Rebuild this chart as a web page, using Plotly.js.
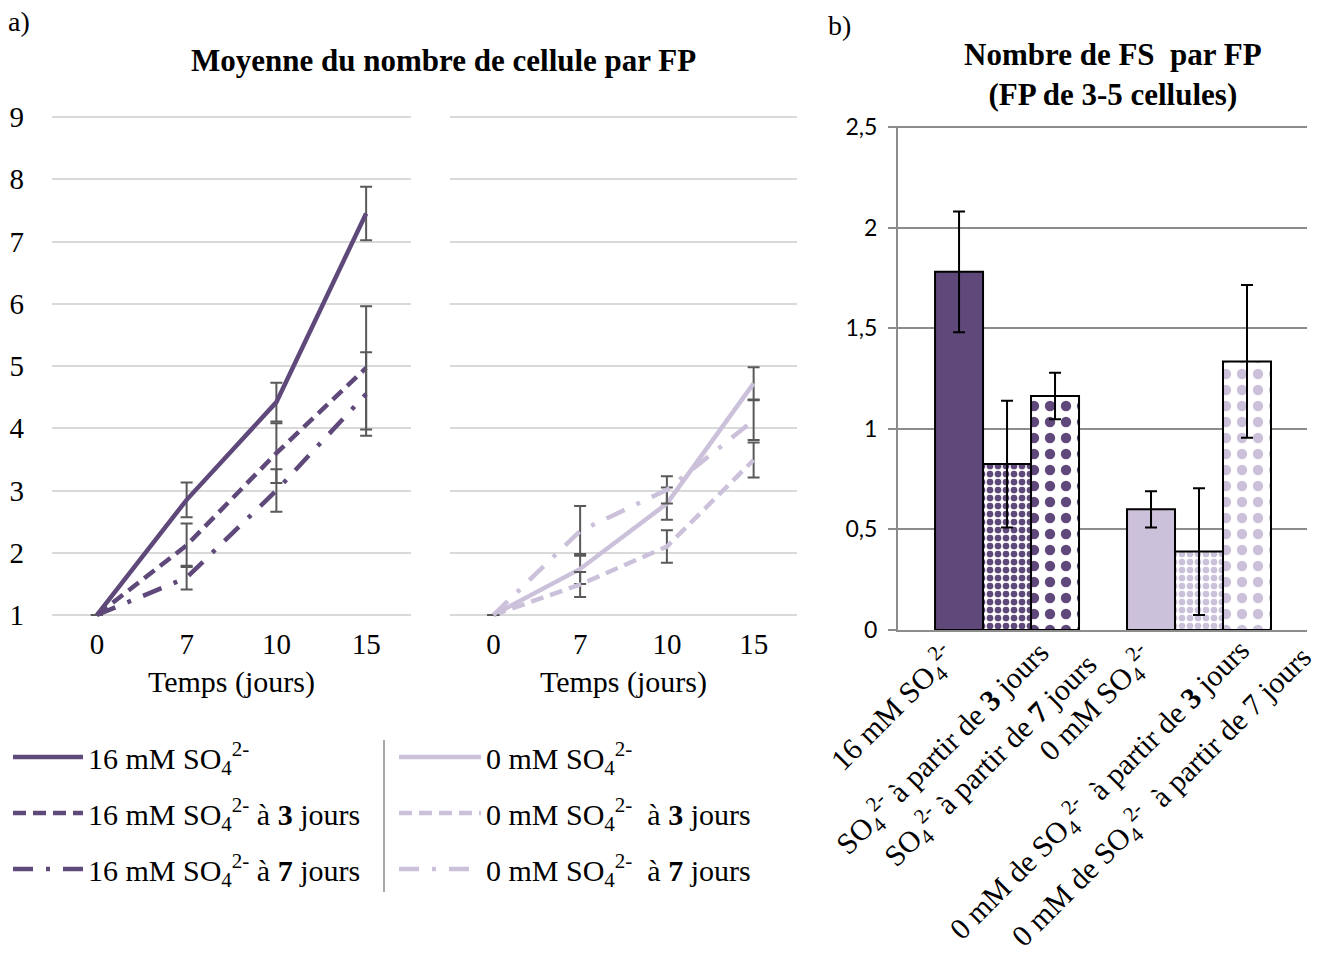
<!DOCTYPE html>
<html><head><meta charset="utf-8">
<script src="https://cdn.plot.ly/plotly-3.0.1.min.js"></script>
<style>body{margin:0;background:#fff}</style>
</head><body>
<div id="chart" style="width:1328px;height:968px"></div>
<script>
// ---- panel a : mean number of cells per FP ----
const days = ["0", "7", "10", "15"];
const s16 = [1, 2.85, 4.42, 7.45];
const s16Err = [0, 0.28, 0.31, 0.43];
const s16j3 = [1, 2.12, 3.60, 4.97];
const s16j3Err = [0, 0.35, 0.48, 0.99];
const s16j7 = [1, 1.60, 3.00, 4.55];
const s16j7Err = [0, 0.19, 0.34, 0.67];
const s0 = [1, 1.74, 2.79, 4.72];
const s0Err = [0, 0.24, 0.26, 0.26];
const s0j3 = [1, 1.49, 2.10, 3.49];
const s0j3Err = [0, 0.20, 0.26, 0.28];
const s0j7 = [1, 2.35, 3.01, 4.13];
const s0j7Err = [0, 0.40, 0.22, 0.32];
const lineNames16 = [
  "16 mM SO<sub>4</sub><sup>2-</sup>",
  "16 mM SO<sub>4</sub><sup>2-</sup> à <b>3</b> jours",
  "16 mM SO<sub>4</sub><sup>2-</sup> à <b>7</b> jours"
];
const lineNames0 = [
  "0 mM SO<sub>4</sub><sup>2-</sup>",
  "0 mM SO<sub>4</sub><sup>2-</sup>  à <b>3</b> jours",
  "0 mM SO<sub>4</sub><sup>2-</sup>  à <b>7</b> jours"
];

// ---- panel b : number of FS per FP ----
const barGroups = ["16 mM", "0 mM"];
const fsPlein = [1.78, 0.60];
const fsPleinErr = [0.30, 0.09];
const fsJ3 = [0.825, 0.39];
const fsJ3Err = [0.315, 0.315];
const fsJ7 = [1.163, 1.335];
const fsJ7Err = [0.115, 0.38];
const barLabels = [
  "16 mM SO<sub>4</sub><sup>2-</sup>",
  "SO<sub>4</sub><sup>2-</sup> à partir de <b>3</b> jours",
  "SO<sub>4</sub><sup>2-</sup> à partir de <b>7</b> jours",
  "0 mM SO<sub>4</sub><sup>2-</sup>",
  "0 mM de SO<sub>4</sub><sup>2-</sup>  à partir de <b>3</b> jours",
  "0 mM de SO<sub>4</sub><sup>2-</sup>  à partir de 7 jours"
];

const DARK = "#5F497A", LIGHT = "#CCC1DA";
const SERIF = "Liberation Serif, Times New Roman, serif";
const W = 1328, H = 968;
const px = v => v / W, py = v => 1 - v / H;

const DASH = "13px,7px";
const DASHDOT = "20px,13px,4px,13px";

function line(y, err, name, color, dash, xa, ya, leg, grp) {
  return {
    type: "scatter", mode: "lines", x: days, y: y, name: name,
    xaxis: xa, yaxis: ya, legend: leg, legendgroup: grp,
    line: {color: color, width: 4.5, dash: dash},
    error_y: {type: "data", array: err, visible: true, color: "#595959", thickness: 2, width: 6},
    hoverinfo: "skip"
  };
}

const traces = [
  line(s16, s16Err, lineNames16[0], DARK, "solid", "x", "y", "legend", "a"),
  line(s16j3, s16j3Err, lineNames16[1], DARK, DASH, "x", "y", "legend", "b"),
  line(s16j7, s16j7Err, lineNames16[2], DARK, DASHDOT, "x", "y", "legend", "c"),
  line(s0, s0Err, lineNames0[0], LIGHT, "solid", "x2", "y2", "legend2", "d"),
  line(s0j3, s0j3Err, lineNames0[1], LIGHT, DASH, "x2", "y2", "legend2", "e"),
  line(s0j7, s0j7Err, lineNames0[2], LIGHT, DASHDOT, "x2", "y2", "legend2", "f")
];

const barErr = arr => ({type: "data", array: arr, visible: true, color: "#000", thickness: 2, width: 6});
traces.push({
  type: "bar", x: barGroups, y: fsPlein, xaxis: "x3", yaxis: "y3", showlegend: false,
  marker: {color: [DARK, LIGHT], line: {color: "#000", width: 2}},
  error_y: barErr(fsPleinErr), hoverinfo: "skip"
});
traces.push({
  type: "bar", x: barGroups, y: fsJ3, xaxis: "x3", yaxis: "y3", showlegend: false,
  marker: {color: "#fff", line: {color: "#000", width: 2},
    pattern: {shape: ".", fillmode: "overlay", bgcolor: "#fff", fgcolor: [DARK, LIGHT], fgopacity: 1, size: 8, solidity: 0.55}},
  error_y: barErr(fsJ3Err), hoverinfo: "skip"
});
traces.push({
  type: "bar", x: barGroups, y: fsJ7, xaxis: "x3", yaxis: "y3", showlegend: false,
  marker: {color: "#fff", line: {color: "#000", width: 2},
    pattern: {shape: ".", fillmode: "overlay", bgcolor: "#fff", fgcolor: [DARK, LIGHT], fgopacity: 1, size: 16, solidity: 0.33}},
  error_y: barErr(fsJ7Err), hoverinfo: "skip"
});

const tickFont = {family: SERIF, size: 29, color: "#000"};
const yDom = [py(617.5), py(114.5)];
const lineX = (dom) => ({
  domain: dom, type: "category", range: [-0.5, 3.5], showgrid: false, zeroline: false,
  showline: false, ticks: "", tickfont: tickFont, ticklabelstandoff: 6, fixedrange: true,
  title: {text: "Temps (jours)", font: {family: SERIF, size: 30, color: "#000"}, standoff: 12}
});
const lineY = (anchor, showLabels) => ({
  domain: yDom, anchor: anchor, range: [0.96, 9.04], dtick: 1, showgrid: true, gridcolor: "#D9D9D9",
  gridwidth: 2, zeroline: false, showline: false, ticks: "", showticklabels: showLabels,
  tickfont: tickFont, ticklabelstandoff: 27, fixedrange: true
});

const labelEnds = [[968, 634], [1061, 630], [1109, 642], [1166, 634], [1262, 627], [1324, 634]];
const annotations = [
  {text: "a)", x: px(6), y: py(4), xref: "paper", yref: "paper", xanchor: "left", yanchor: "top",
   showarrow: false, font: {family: SERIF, size: 28, color: "#000"}},
  {text: "b)", x: px(826), y: py(8), xref: "paper", yref: "paper", xanchor: "left", yanchor: "top",
   showarrow: false, font: {family: SERIF, size: 28, color: "#000"}},
  {text: "<b>Moyenne du nombre de cellule par FP</b>", x: px(443), y: py(61), xref: "paper", yref: "paper",
   xanchor: "center", yanchor: "middle", showarrow: false, font: {family: SERIF, size: 31, color: "#000"}},
  {text: "<b>Nombre de FS  par FP<br>(FP de 3-5 cellules)</b>", x: px(1113), y: py(75), xref: "paper", yref: "paper",
   xanchor: "center", yanchor: "middle", showarrow: false, font: {family: SERIF, size: 31, color: "#000"}}
];
barLabels.forEach((t, i) => {
  annotations.push({text: t, x: px(labelEnds[i][0]), y: py(labelEnds[i][1]), xref: "paper", yref: "paper",
    xanchor: "right", yanchor: "top", textangle: -45, showarrow: false,
    font: {family: SERIF, size: 30, color: "#000"}});
});

const legendFont = {family: SERIF, size: 30, color: "#000"};
const layout = {
  width: W, height: H, margin: {l: 0, r: 0, t: 0, b: 0},
  paper_bgcolor: "#fff", plot_bgcolor: "rgba(0,0,0,0)",
  separators: ", ",
  barmode: "group", bargap: 0.25, bargroupgap: 0,
  showlegend: true,
  xaxis: Object.assign(lineX([px(52), px(411)]), {anchor: "y"}),
  yaxis: lineY("x", true),
  xaxis2: Object.assign(lineX([px(450), px(797)]), {anchor: "y2"}),
  yaxis2: lineY("x2", false),
  xaxis3: {domain: [px(898), px(1307)], anchor: "y3", type: "category", range: [-0.568, 1.5625],
    showgrid: false, zeroline: false, showline: true, linecolor: "#8C8C8C", linewidth: 2,
    ticks: "", showticklabels: false, fixedrange: true},
  yaxis3: {domain: [py(630), py(126)], anchor: "x3", range: [0, 2.505], dtick: 0.5,
    showgrid: true, gridcolor: "#8C8C8C", gridwidth: 2, zeroline: false,
    showline: true, linecolor: "#8C8C8C", linewidth: 2, ticks: "outside", ticklen: 8,
    tickcolor: "#8C8C8C", tickwidth: 2, ticklabelstandoff: 6,
    tickfont: {family: "Lato, Noto Sans, sans-serif", size: 23, color: "#000"}, fixedrange: true},
  legend: {x: px(8), y: py(731), xanchor: "left", yanchor: "top", orientation: "v",
    traceorder: "grouped", tracegroupgap: 14, itemwidth: 70, font: legendFont, bgcolor: "rgba(0,0,0,0)"},
  legend2: {x: px(394), y: py(731), xanchor: "left", yanchor: "top", orientation: "v",
    traceorder: "grouped", tracegroupgap: 14, itemwidth: 82, font: legendFont, bgcolor: "rgba(0,0,0,0)"},
  shapes: [
    {type: "line", xref: "paper", yref: "paper", x0: px(384), x1: px(384), y0: py(740), y1: py(892),
     line: {color: "#8C8C8C", width: 1.5}}
  ],
  annotations: annotations
};

Plotly.newPlot("chart", traces, layout, {staticPlot: true});
</script>
</body></html>
